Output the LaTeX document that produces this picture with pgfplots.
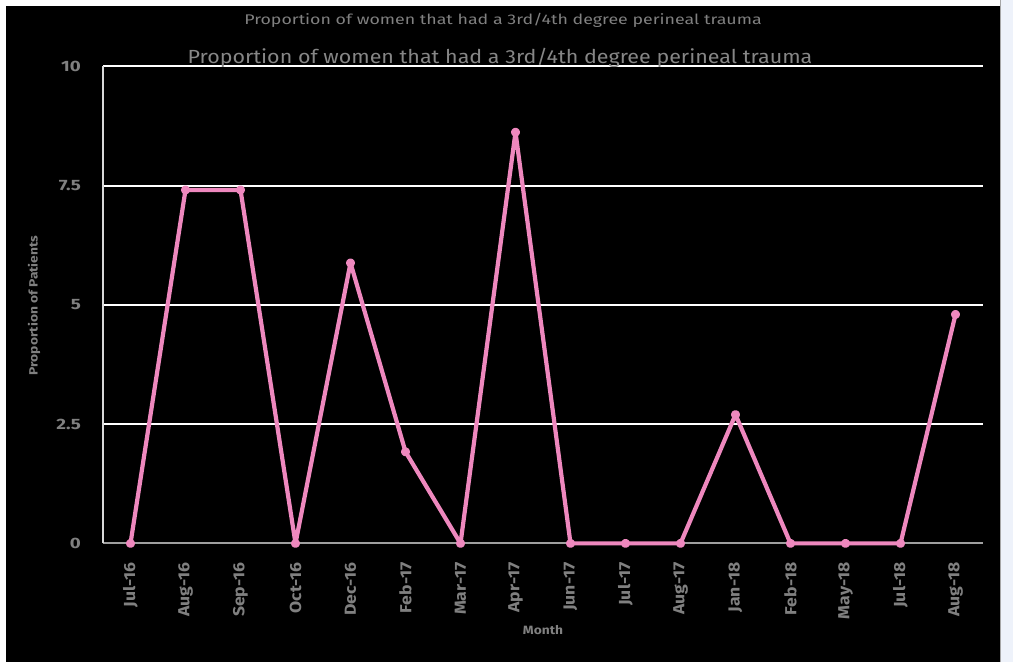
\documentclass[border=0pt]{standalone}
\usepackage{pgfplots}
\pgfplotsset{compat=1.18}
\usepackage{fontspec}
\setmainfont{Fira Sans}
\newfontfamily\tickfont[FakeStretch=1.1]{Fira Sans}
\newfontfamily\ytickfont[FakeStretch=1.25]{Fira Sans}
\newfontfamily\topfont[FakeStretch=1.27]{Fira Sans}
\newfontfamily\subfont[FakeStretch=1.13]{Fira Sans}
\newfontfamily\labfont[FakeStretch=1.15]{Fira Sans}
\definecolor{pinkline}{RGB}{238,136,190}
\definecolor{txtgray}{RGB}{128,128,128}
\definecolor{sidebg}{RGB}{238,242,250}
\begin{document}
\begin{tikzpicture}[x=1bp,y=1bp]
\fill[white] (0,0) rectangle (1013,662);
\fill[black] (6,0) rectangle (1000,656);
\fill[sidebg] (1001,0) rectangle (1013,662);
\draw[gray!70,line width=0.8bp] (1000.5,0) -- (1000.5,662);
\begin{axis}[
  at={(103bp,119bp)}, anchor=south west,
  scale only axis, width=880bp, height=477bp,
  xmin=-0.5, xmax=15.5, ymin=0, ymax=10,
  axis x line*=bottom, axis y line*=left,
  axis line style={line width=1.5bp, draw=white!85!black},
  x axis line style={draw=gray!75!white, line width=2.2bp},
  xtick={0,...,15},
  xticklabels={Jul-16,Aug-16,Sep-16,Oct-16,Dec-16,Feb-17,Mar-17,Apr-17,Jun-17,Jul-17,Aug-17,Jan-18,Feb-18,May-18,Jul-18,Aug-18},
  ytick={0,2.5,5,7.5,10},
  yticklabels={0,2.5,5,7.5,10},
  major tick length=0pt,
  ymajorgrids, grid style={white, line width=1.8bp},
  xticklabel shift=19bp, yticklabel shift=22bp,
  xticklabel style={rotate=90, anchor=east, inner sep=0pt, font=\tickfont\bfseries\fontsize{16bp}{16bp}\selectfont, text=txtgray},
  yticklabel style={anchor=east, inner sep=0pt, font=\ytickfont\bfseries\fontsize{15bp}{15bp}\selectfont, text=txtgray},
  clip=false,
]
\addplot[pinkline, line width=4.2bp, line join=round, mark=*, mark size=2.4bp, mark options={fill=pinkline, draw=pinkline}]
coordinates {
(0,0) (1,7.41) (2,7.41) (3,0) (4,5.88) (5,1.92) (6,0) (7,8.62) (8,0) (9,0) (10,0) (11,2.7) (12,0) (13,0) (14,0) (15,4.8)
};
\end{axis}
\node[txtgray, font=\topfont\fontsize{14bp}{14bp}\selectfont] at (503,642) {Proportion of women that had a 3rd/4th degree perineal trauma};
\node[gray!95!white, font=\subfont\fontsize{19bp}{19bp}\selectfont] at (500,605) {Proportion of women that had a 3rd/4th degree perineal trauma};
\node[txtgray, rotate=90, font=\labfont\bfseries\fontsize{12bp}{12bp}\selectfont] at (34,357) {Proportion of Patients};
\node[txtgray, font=\labfont\bfseries\fontsize{12bp}{12bp}\selectfont] at (543,32) {Month};
\end{tikzpicture}
\end{document}
